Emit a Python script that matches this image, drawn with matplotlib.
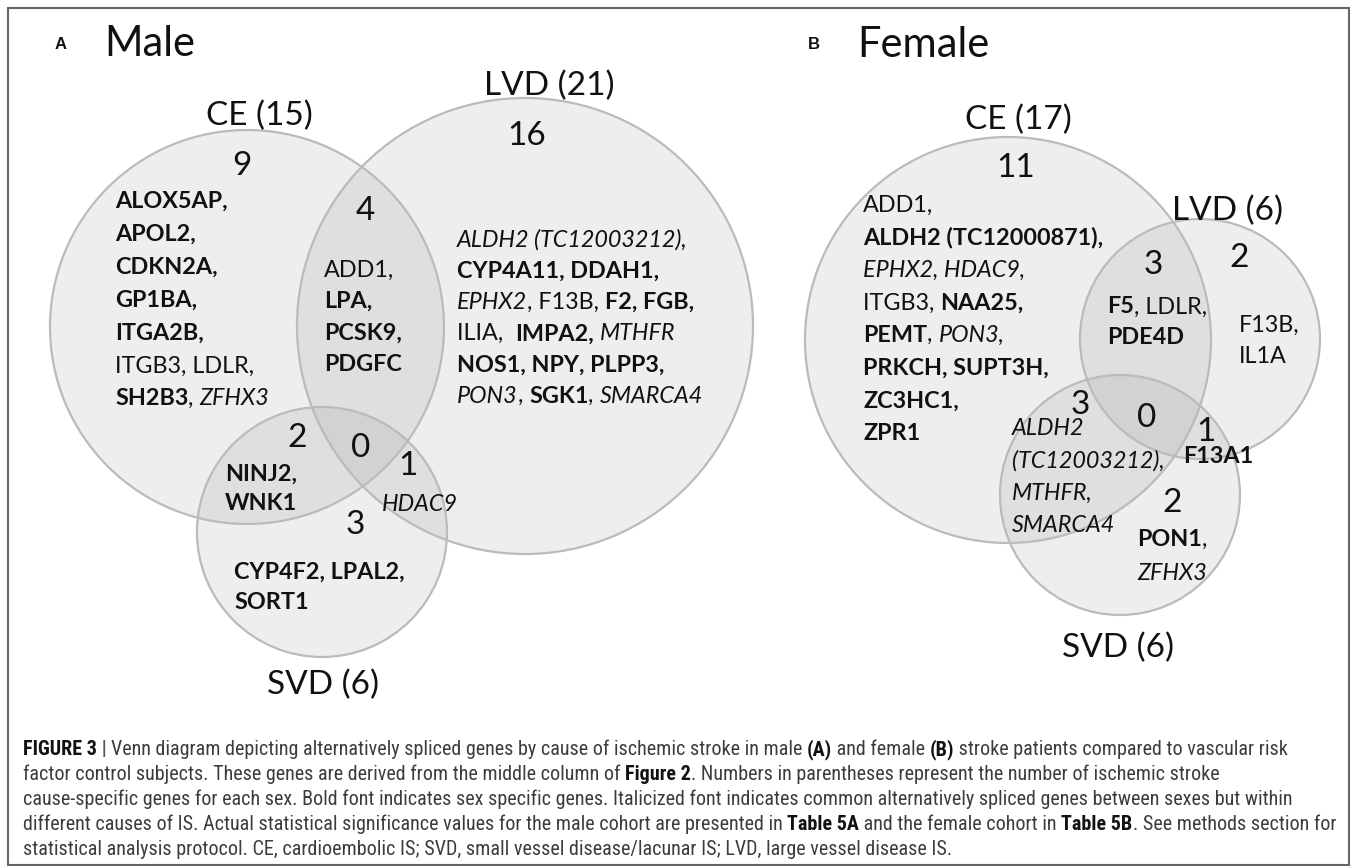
import matplotlib
matplotlib.use("Agg")
import matplotlib.pyplot as plt
from matplotlib.patches import Circle, Rectangle
from matplotlib.font_manager import FontProperties, findfont

W, H = 1357, 866

# ---- data -------------------------------------------------------------
set_names = ["CE", "LVD", "SVD"]
male_sizes = [15, 21, 6]
female_sizes = [17, 6, 6]

# region order: CE only, LVD only, SVD only, CE&LVD, CE&SVD, LVD&SVD, all three
region_keys = ["CE", "LVD", "SVD", "CE&LVD", "CE&SVD", "LVD&SVD", "ALL"]
male_counts = [9, 16, 3, 4, 2, 1, 0]
female_counts = [11, 2, 2, 3, 3, 1, 0]

# gene class: s = sex specific (bold), c = common between sexes (italic), n = other
male_genes = {
    "CE": [[("ALOX5AP,", "s")], [("APOL2,", "s")], [("CDKN2A,", "s")],
           [("GP1BA,", "s")], [("ITGA2B,", "s")], [("ITGB3, LDLR,", "n")],
           [("SH2B3", "s"), (", ", "n"), ("ZFHX3", "c")]],
    "CE&LVD": [[("ADD1,", "n")], [("LPA,", "s")], [("PCSK9,", "s")], [("PDGFC", "s")]],
    "LVD": [[("ALDH2 (TC12003212),", "c")],
            [("CYP4A11, DDAH1,", "s")],
            [("EPHX2", "c"), (", F13B, ", "n"), ("F2, FGB,", "s")],
            [("ILIA,  ", "n"), ("IMPA2,", "s"), (" ", "n"), ("MTHFR", "c")],
            [("NOS1, NPY, PLPP3,", "s")],
            [("PON3", "c"), (", ", "n"), ("SGK1", "s"), (", ", "n"), ("SMARCA4", "c")]],
    "CE&SVD": [[("NINJ2,", "s")], [("WNK1", "s")]],
    "LVD&SVD": [[("HDAC9", "c")]],
    "SVD": [[("CYP4F2, LPAL2,", "s")], [("SORT1", "s")]],
}

female_genes = {
    "CE": [[("ADD1,", "n")], [("ALDH2 (TC12000871),", "s")],
           [("EPHX2, HDAC9,", "c")], [("ITGB3, ", "n"), ("NAA25,", "s")],
           [("PEMT", "s"), (", ", "n"), ("PON3,", "c")],
           [("PRKCH, SUPT3H,", "s")], [("ZC3HC1,", "s")], [("ZPR1", "s")]],
    "CE&LVD": [[("F5", "s"), (", LDLR,", "n")], [("PDE4D", "s")]],
    "LVD": [[("F13B,", "n")], [("IL1A", "n")]],
    "CE&SVD": [[("ALDH2", "c")], [("(TC12003212),", "c")], [("MTHFR,", "c")], [("SMARCA4", "c")]],
    "LVD&SVD": [[("F13A1", "s")]],
    "SVD": [[("PON1", "s"), (",", "n")], [("ZFHX3", "c")]],
}

caption_lines = [
    [("FIGURE 3", "b"), (" | ", "bar"), ("Venn diagram depicting alternatively spliced genes by cause of ischemic stroke in male ", "r"),
     ("(A)", "b"), (" and female ", "r"), ("(B)", "b"), (" stroke patients compared to vascular risk", "r")],
    [("factor control subjects. These genes are derived from the middle column of ", "r"), ("Figure 2", "b"),
     (". Numbers in parentheses represent the number of ischemic stroke", "r")],
    [("cause-specific genes for each sex. Bold font indicates sex specific genes. Italicized font indicates common alternatively spliced genes between sexes but within", "r")],
    [("different causes of IS. Actual statistical significance values for the male cohort are presented in ", "r"), ("Table 5A", "b"),
     (" and the female cohort in ", "r"), ("Table 5B", "b"), (". See methods section for", "r")],
    [("statistical analysis protocol. CE, cardioembolic IS; SVD, small vessel disease/lacunar IS; LVD, large vessel disease IS.", "r")],
]

# ---- layout (pixel units, y down) ------------------------------------
VFONT = "Lato"


def caption_family():
    # prefer a narrow Helvetica-like face, else plain Liberation Sans
    for fam in ["Liberation Sans Narrow", "Nimbus Sans Narrow", "Roboto Condensed", "Arial Narrow"]:
        try:
            findfont(FontProperties(family=fam), fallback_to_default=False)
            return fam, "normal"
        except ValueError:
            pass
    for fam in ["Noto Sans", "DejaVu Sans"]:
        try:
            path = findfont(FontProperties(family=fam, stretch="condensed"), fallback_to_default=False)
            if "ondensed" in path:
                return fam, "condensed"
        except ValueError:
            pass
    return "Liberation Sans", "normal"


CFONT, CSTRETCH = caption_family()

panels = [
    dict(tag="A", title="Male", tag_xy=(61, 43), title_xy=(104, 41),
         sizes=male_sizes, counts=male_counts, genes=male_genes,
         circles={"CE": (247, 327, 197), "LVD": (525, 326, 228), "SVD": (322, 532, 125)},
         labels={"CE": (259, 113), "LVD": (549, 83), "SVD": (323, 682)},
         count_xy={"CE": (242, 163), "LVD": (527, 133), "SVD": (355, 522), "CE&LVD": (365, 208),
                   "CE&SVD": (297, 435), "LVD&SVD": (408, 463), "ALL": (361, 445)},
         gene_xy={"CE": (115, 199, 33), "CE&LVD": (324, 268, 31.5), "LVD": (457, 238, 31.3),
                  "CE&SVD": (225, 472, 30), "LVD&SVD": (382, 503, 30), "SVD": (234, 570, 31)}),
    dict(tag="B", title="Female", tag_xy=(814, 43), title_xy=(857, 42),
         sizes=female_sizes, counts=female_counts, genes=female_genes,
         circles={"CE": (1008, 340, 203), "LVD": (1200, 339, 120), "SVD": (1120, 495, 120)},
         labels={"CE": (1018, 117), "LVD": (1227, 208), "SVD": (1118, 645)},
         count_xy={"CE": (1016, 165), "LVD": (1239, 255), "SVD": (1172, 500), "CE&LVD": (1153, 262),
                   "CE&SVD": (1080, 402), "LVD&SVD": (1206, 429), "ALL": (1147, 415)},
         gene_xy={"CE": (863, 203, 32.7), "CE&LVD": (1107, 305, 31), "LVD": (1239, 323, 32),
                  "CE&SVD": (1012, 427, 32.3), "LVD&SVD": (1183, 455, 32), "SVD": (1137, 538, 34)}),
]

gene_style = {"s": ("bold", "normal"), "c": ("normal", "italic"), "n": ("normal", "normal")}

fig = plt.figure(figsize=(W / 100, H / 100), dpi=100)
ax = fig.add_axes([0, 0, 1, 1])
ax.set_xlim(0, W)
ax.set_ylim(H, 0)
ax.axis("off")
renderer = fig.canvas.get_renderer()


def px(size):
    return size * 100 / 72.0


def text_width(s, prop):
    # wrap in bars so leading / trailing spaces are counted
    w1, _, _ = renderer.get_text_width_height_descent("|" + s + "|", prop, ismath=False)
    w2, _, _ = renderer.get_text_width_height_descent("||", prop, ismath=False)
    return w1 - w2


def draw_runs(x, yc, runs, props, colors):
    for txt, key in runs:
        prop = props[key]
        base = yc + 0.36 * px(prop.get_size_in_points())
        ax.text(x, base, txt, fontproperties=prop, color=colors[key],
                ha="left", va="baseline", zorder=5)
        x += text_width(txt, prop)


def centered(x, yc, s, size, weight="normal", family=VFONT):
    ax.text(x, yc + 0.36 * px(size), s, fontsize=size, fontweight=weight, family=family,
            ha="center", va="baseline", color="#111111", zorder=5)


GSIZE = 16.8
NSIZE = 24
gprops = {k: FontProperties(family=VFONT, weight=w, style=st, size=GSIZE)
          for k, (w, st) in gene_style.items()}
gcolors = {k: "#111111" for k in gene_style}

# frame
ax.add_patch(Rectangle((8, 8), W - 16, H - 9, fill=False, edgecolor="#666666", lw=1.5, zorder=1))

for p in panels:
    ax.text(p["tag_xy"][0], p["tag_xy"][1] + 0.36 * px(12), p["tag"], fontsize=12,
            fontweight="bold", family="Liberation Sans", ha="center", va="baseline", color="#111111")
    ax.text(p["title_xy"][0], p["title_xy"][1] + 0.36 * px(30), p["title"], fontsize=30,
            family=VFONT, ha="left", va="baseline", color="#111111")
    for name in set_names:
        cx, cy, r = p["circles"][name]
        ax.add_patch(Circle((cx, cy), r, facecolor="#808080", alpha=0.13, lw=0, zorder=2))
        ax.add_patch(Circle((cx, cy), r, fill=False, edgecolor="#bbbbbb", lw=1.6, zorder=3))
    for name, n in zip(set_names, p["sizes"]):
        lx, ly = p["labels"][name]
        centered(lx, ly, f"{name} ({n})", NSIZE)
    for key, c in zip(region_keys, p["counts"]):
        cx, cy = p["count_xy"][key]
        centered(cx, cy, str(c), NSIZE)
    for key, lines in p["genes"].items():
        gx, gy, step = p["gene_xy"][key]
        for i, runs in enumerate(lines):
            draw_runs(gx, gy + i * step, runs, gprops, gcolors)


# caption: first line spans ~1265 px in the reference
def caption_props(size):
    return {"r": FontProperties(family=CFONT, stretch=CSTRETCH, size=size),
            "b": FontProperties(family=CFONT, stretch=CSTRETCH, weight="bold", size=size),
            "bar": FontProperties(family=CFONT, stretch=CSTRETCH, weight="bold", size=size)}


CSIZE = 15
cprops = caption_props(CSIZE)
natural = sum(text_width(t, cprops[k]) for t, k in caption_lines[0])
CSIZE = min(15.0, CSIZE * 1265.0 / natural)
cprops = caption_props(CSIZE)
ccolors = {"r": "#3c3c3c", "b": "#111111", "bar": "#555555"}
for i, runs in enumerate(caption_lines):
    draw_runs(23, 748 + i * 25, runs, cprops, ccolors)

fig.savefig("out.png", dpi=100)
